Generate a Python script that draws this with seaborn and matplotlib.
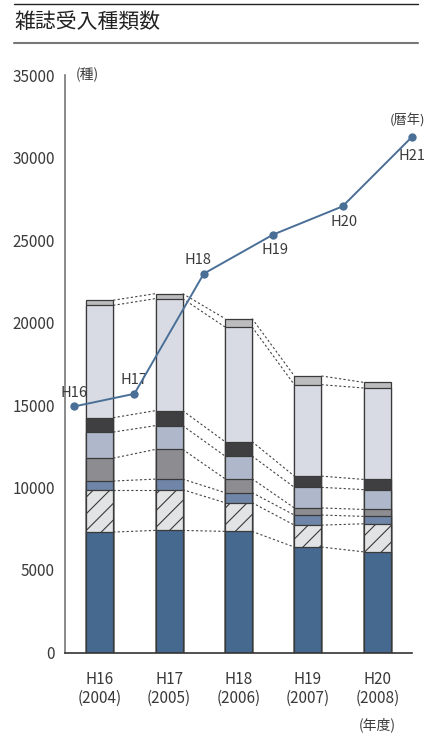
import numpy as np
import matplotlib
matplotlib.use("Agg")
import matplotlib.pyplot as plt
import matplotlib.lines as mlines
import seaborn as sns

# ---------------- data ----------------
fiscal_labels = ["H16", "H17", "H18", "H19", "H20"]
fiscal_years = ["2004", "2005", "2006", "2007", "2008"]

seg1 = [7300, 7400, 7340, 6390, 6100]     # bottom (dark blue)
seg2 = [2570, 2470, 1740, 1330, 1700]     # hatched
seg3 = [520, 640, 610, 610, 450]          # steel blue
seg4 = [1390, 1800, 840, 430, 420]        # gray
seg5 = [1580, 1440, 1380, 1250, 1200]     # light steel blue
seg6 = [870, 910, 870, 680, 620]          # dark gray
seg7 = [6810, 6790, 6950, 5540, 5540]     # pale
seg8 = [310, 300, 510, 530, 340]          # top light gray

calendar_labels = ["H16", "H17", "H18", "H19", "H20", "H21"]
calendar_values = [14910, 15680, 22960, 25330, 27040, 31250]

y_ticks = [0, 5000, 10000, 15000, 20000, 25000, 30000, 35000]

# ---------------- style ----------------
sns.set_style("white")
plt.rcParams["font.family"] = ["Noto Sans CJK JP", "DejaVu Sans"]
plt.rcParams["hatch.linewidth"] = 0.8
plt.rcParams["hatch.color"] = "#3c3c3c"

colors = ["#466a8f", "#e2e3e5", "#6f86a8", "#8c8c91",
          "#aeb8ca", "#3f3f42", "#d8dbe3", "#bcbcbe"]
edge = "#3a3a3a"
line_color = "#4a6f96"
text_color = "#3a3a3a"

fig = plt.figure(figsize=(4.28, 7.33), dpi=100)
W, H = 428, 733
ax = fig.add_axes([65 / W, (H - 652.5) / H, 347 / W, 577.5 / H])

segments = np.array([seg1, seg2, seg3, seg4, seg5, seg6, seg7, seg8])
cum = np.cumsum(segments, axis=0)
xpos = np.arange(len(fiscal_labels))
bar_w = 0.39

for k in reversed(range(len(segments))):
    kw = {}
    if k == 1:
        kw["hatch"] = "//"
    sns.barplot(x=xpos, y=cum[k], native_scale=True, orient="x",
                color=colors[k], saturation=1, width=bar_w,
                edgecolor=edge, linewidth=0.9, errorbar=None, ax=ax,
                zorder=2, **kw)

# dotted connectors between bars
for k in range(len(segments)):
    for i in range(len(xpos) - 1):
        ax.plot([xpos[i] + bar_w / 2, xpos[i + 1] - bar_w / 2],
                [cum[k][i], cum[k][i + 1]],
                linestyle=(0, (2, 2)), color="#444444", lw=0.8, zorder=1)

# calendar-year line (points sit on the boundaries between fiscal years)
line_x = np.arange(len(calendar_labels)) - 0.5
line_x[0] = -0.37  # first point kept just inside the frame
sns.lineplot(x=line_x, y=calendar_values, color=line_color, lw=1.4,
             marker="o", markersize=6, markeredgewidth=0, ax=ax,
             clip_on=False, zorder=5, sort=False)

label_offsets = [(0, 5), (0, 5), (-4, 5), (1, -6), (1, -6), (0, -9)]
label_va = ["bottom", "bottom", "bottom", "top", "top", "top"]
for lx, ly, lab, off, va in zip(line_x, calendar_values, calendar_labels,
                                label_offsets, label_va):
    ax.annotate(lab, (lx, ly), xytext=off, textcoords="offset points",
                ha="center", va=va, fontsize=10.5, color=text_color,
                annotation_clip=False)
ax.annotate("(暦年)", (line_x[-1], calendar_values[-1]), xytext=(-3, 7),
            textcoords="offset points", ha="center", va="bottom",
            fontsize=9.5, color=text_color, annotation_clip=False)

# ---------------- axes ----------------
ax.set_xlim(-0.5, 4.5)
ax.set_ylim(0, 35000)
ax.set_yticks(y_ticks)
ax.set_yticklabels([str(v) for v in y_ticks])
ax.set_xticks(xpos)
ax.set_xticklabels([f"{a}\n({b})" for a, b in zip(fiscal_labels, fiscal_years)],
                   linespacing=1.15)
ax.set_xticks(xpos + 0.5, minor=True)
ax.tick_params(axis="x", which="major", length=0, pad=13, labelsize=11,
               labelcolor=text_color)
ax.tick_params(axis="x", which="minor", direction="in", length=8.6,
               width=1.0, color="#333333")
ax.tick_params(axis="y", which="major", direction="out", length=4.3,
               width=1.0, color="#666666", pad=3, labelsize=11,
               labelcolor=text_color)
ax.set_xlabel("")
ax.set_ylabel("")
for s in ["top", "right"]:
    ax.spines[s].set_visible(False)
ax.spines["left"].set_color("#777777")
ax.spines["left"].set_linewidth(1.2)
ax.spines["bottom"].set_color("#333333")
ax.spines["bottom"].set_linewidth(1.2)

ytk = ax.yaxis.get_major_ticks()
ytk[-1].tick1line.set_marker(mlines.TICKRIGHT)

ax.text(0.03, 1.0, "(種)", transform=ax.transAxes, ha="left", va="center",
        fontsize=10, color=text_color)
ax.annotate("(年度)", (xpos[-1], -0.1255), xycoords=("data", "axes fraction"),
            ha="center", va="center", fontsize=10, color=text_color,
            annotation_clip=False)

# ---------------- title ----------------
fig.text(14 / W, 1 - 22 / H, "雑誌受入種類数", ha="left", va="center",
         fontsize=15, color="#222222")
fig.add_artist(mlines.Line2D([14 / W, 418 / W], [1 - 3.5 / H, 1 - 3.5 / H],
                             color="#222222", lw=1.0,
                             transform=fig.transFigure))
fig.add_artist(mlines.Line2D([14 / W, 418 / W], [1 - 43 / H, 1 - 43 / H],
                             color="#777777", lw=1.5,
                             transform=fig.transFigure))

fig.savefig("out.png", dpi=100)
